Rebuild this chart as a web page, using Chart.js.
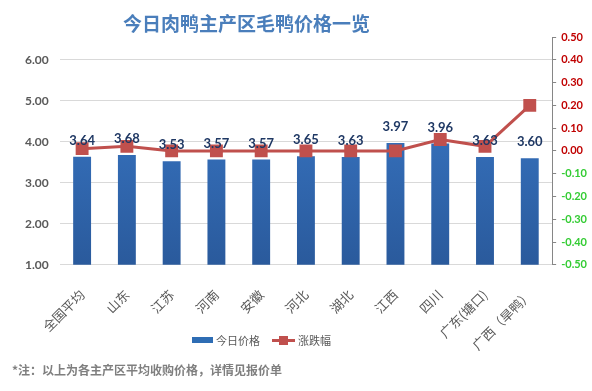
<!DOCTYPE html>
<html>
<head>
<meta charset="utf-8">
<script src="https://cdn.jsdelivr.net/npm/chart.js@4"></script>
<style>
body{margin:0;background:#fff;}
#wrap{position:relative;width:592px;height:391px;overflow:hidden;}
#chart{position:absolute;left:0;top:0;}
#title{position:absolute;left:123px;top:9px;font:bold 19px "Noto Sans CJK SC",sans-serif;color:#4A7EBB;white-space:nowrap;}
#note{position:absolute;left:12px;top:361px;font:bold 12px "Noto Sans CJK SC",sans-serif;color:#7F7F7F;white-space:nowrap;}
#legend{position:absolute;left:192px;top:330px;font:11px "Noto Sans CJK SC",sans-serif;color:#595959;white-space:nowrap;}
#legend span{display:inline-block;vertical-align:middle;}
.box{width:21px;height:6px;background:#2E6DB4;margin-right:3px;}
.ln{position:relative;width:23px;height:3px;background:#C0504D;margin-left:12px;margin-right:3px;}
.ln i{position:absolute;left:7px;top:-3px;width:9px;height:9px;background:#C0504D;}
</style>
</head>
<body>
<div id="wrap">
<canvas id="chart" width="592" height="391"></canvas>
<div id="title">今日肉鸭主产区毛鸭价格一览</div>
<div id="legend"><span class="box"></span><span>今日价格</span><span class="ln"><i></i></span><span>涨跌幅</span></div>
<div id="note">*注：以上为各主产区平均收购价格，详情见报价单</div>
</div>
<script>

// ================= DATA =================

const regions=["全国平均","山东","江苏","河南","安徽","河北","湖北","江西","四川","广东(塘口)","广西（旱鸭）"];
const prices=[3.64,3.68,3.53,3.57,3.57,3.65,3.63,3.97,3.96,3.63,3.60];
const changes=[0.01,0.02,0,0,0,0,0,0,0.05,0.02,0.20];
const priceTicks=[1,2,3,4,5,6];

// ================= PLUGINS =================

const barLabels={
id:"barLabels",
afterDatasetsDraw(chart){
const meta=chart.getDatasetMeta(1);
const c=chart.ctx;
c.save();
c.font="bold 13px Lato, sans-serif";
c.fillStyle="#1F3864";
c.textAlign="center";
c.textBaseline="middle";
meta.data.forEach((bar,i)=>{
c.fillText(prices[i].toFixed(2),bar.x,bar.y-16);
});
c.restore();
}
};

function barGradient(ctx){
const area=ctx.chart.chartArea;
if(!area) return "#2E6DB4";
const g=ctx.chart.ctx.createLinearGradient(0,area.top,0,area.bottom);
g.addColorStop(0,"#3C7DCE");
g.addColorStop(1,"#2A5A9C");
return g;
}

// ================= CHART =================

new Chart(document.getElementById("chart"),{

type:"bar",

data:{
labels:regions,
datasets:[
{
type:"line",
label:"涨跌幅",
data:changes,
yAxisID:"y2",
borderColor:"#C0504D",
backgroundColor:"#C0504D",
borderWidth:3,
pointStyle:"rect",
pointRadius:7,
pointHoverRadius:7,
tension:0,
order:0
},
{
label:"今日价格",
data:prices,
yAxisID:"y",
backgroundColor:barGradient,
categoryPercentage:1,
barPercentage:0.4,
order:1
}
]
},

options:{
responsive:false,
animation:false,
layout:{padding:{left:14,right:0,top:37,bottom:24}},
plugins:{legend:{display:false},tooltip:{enabled:false}},
scales:{
x:{
grid:{display:false},
border:{display:false},
ticks:{
minRotation:45,maxRotation:45,
padding:14,
color:"#595959",
font:{family:"Noto Sans CJK SC",size:13}
}
},
y:{
position:"left",
min:1,
max:6.56,
afterBuildTicks:s=>{s.ticks=priceTicks.map(v=>({value:v}));},
grid:{color:"#D9D9D9",drawTicks:false},
border:{display:false},
ticks:{
padding:11,
color:"#595959",
font:{family:"Lato",size:12,weight:"bold"},
callback:v=>Number(v).toFixed(2)
}
},
y2:{
position:"right",
min:-0.5,
max:0.5,
grid:{drawOnChartArea:false,color:"#868686",tickLength:4},
border:{display:true,color:"#868686"},
ticks:{
stepSize:0.1,
padding:5,
font:{family:"Lato",size:11,weight:"bold"},
color:c=>c.tick.value< -1e-9?"#33CC33":"#C00000",
callback:v=>(Math.abs(v)<1e-9?0:v).toFixed(2)
}
}
}
},

plugins:[barLabels]

});

</script>
</body>
</html>
